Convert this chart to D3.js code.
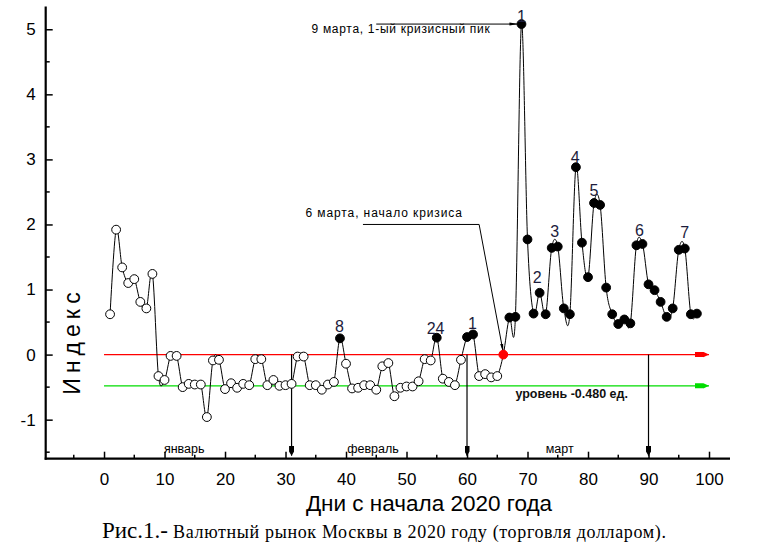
<!DOCTYPE html>
<html><head><meta charset="utf-8">
<script src="https://cdn.jsdelivr.net/npm/d3@7"></script>
<style>body{margin:0;background:#fff}svg{display:block}</style>
</head><body><svg id="c" width="773" height="542"></svg>
<script>
// ---- data ----
const days = d3.range(1, 99);
const values = [
  0.62, 1.92, 1.34, 1.10, 1.16, 0.81, 0.71, 1.24, -0.33, -0.39,
  -0.02, -0.02, -0.50, -0.45, -0.46, -0.46, -0.96, -0.09, -0.08, -0.53,
  -0.44, -0.51, -0.45, -0.47, -0.07, -0.07, -0.47, -0.39, -0.48, -0.47,
  -0.45, -0.03, -0.03, -0.47, -0.47, -0.54, -0.46, -0.42, 0.25, -0.14,
  -0.52, -0.51, -0.47, -0.47, -0.54, -0.18, -0.13, -0.64, -0.51, -0.49,
  -0.49, -0.41, -0.07, -0.09, 0.26, -0.37, -0.42, -0.47, -0.08, 0.27,
  0.31, -0.33, -0.30, -0.35, -0.33, 0.00, 0.57, 0.58, 5.08, 1.77,
  0.63, 0.95, 0.62, 1.64, 1.66, 0.71, 0.62, 2.88, 1.72, 1.19,
  2.33, 2.30, 1.03, 0.62, 0.47, 0.54, 0.48, 1.68, 1.70, 1.08,
  0.99, 0.81, 0.58, 0.71, 1.61, 1.63, 0.62, 0.63
];
const filledDays = [39, 55, 60, 61];
const crisisDay = 66;
const levelValue = -0.48;
const levelLabel = "уровень -0.480 ед.";
const yTicks = [-1, 0, 1, 2, 3, 4, 5];
const yMinorTicks = [-1.5, -0.5, 0.5, 1.5, 2.5, 3.5, 4.5];
const xTicks = [0, 10, 20, 30, 40, 50, 60, 70, 80, 90, 100];
const xMinorTicks = [-5, 5, 15, 25, 35, 45, 55, 65, 75, 85, 95];
const monthNames = ["январь", "февраль", "март"];
const monthLabelDays = [9.9, 40.2, 73.0];
const monthBoundaryDays = [31, 60, 90];
const peakLabelText = ["1", "2", "3", "4", "5", "6", "7", "8", "24", "1"];
const peakLabelDay  = [69, 71.6, 74.5, 77.9, 81.0, 88.5, 96.0, 38.9, 54.8, 60.9];
const peakLabelVal  = [5.11, 1.10, 1.80, 2.94, 2.43, 1.82, 1.79, 0.35, 0.32, 0.39];

// ---- layout ----
const svg = d3.select("#c");
const x = d3.scaleLinear().domain([-9.64, 103.47]).range([45.7, 730]);
const y = d3.scaleLinear().domain([-1.6, 5.35]).range([458.7, 6.5]);
const sans = "'Liberation Sans', Arial, sans-serif";
const serif = "'Liberation Serif', 'Times New Roman', serif";

svg.append("rect").attr("width", 773).attr("height", 542).attr("fill", "#fff");

const defs = svg.append("defs");
function marker(id, color, len, half) {
  defs.append("marker").attr("id", id)
    .attr("markerUnits", "userSpaceOnUse")
    .attr("markerWidth", len + 2).attr("markerHeight", half * 2 + 2)
    .attr("refX", len).attr("refY", half + 1).attr("orient", "auto")
    .append("path")
    .attr("d", `M0,${half - 1.5} L${len * 0.6},${half - 1.5} L${len * 0.6},${half - 0.5 - half * 0.6} L${len},${half + 1} L${len * 0.6},${half + 2.5 + half * 0.6} L${len * 0.6},${half + 3.5} L0,${half + 3.5} Z`)
    .attr("fill", color);
}
marker("aRed", "#ff0000", 14, 2);
marker("aGreen", "#00dd00", 14, 2);
marker("aBlack", "#000", 10, 1.5);
defs.append("marker").attr("id", "aSmall")
  .attr("markerUnits", "userSpaceOnUse")
  .attr("markerWidth", 10).attr("markerHeight", 8)
  .attr("refX", 9).attr("refY", 4).attr("orient", "auto")
  .append("path").attr("d", "M0,2.5 L9,4 L0,5.5 Z").attr("fill", "#000");

// ---- axes ----
const yAxis = d3.axisLeft(y).tickValues(yTicks).tickSize(-7).tickPadding(10)
  .tickFormat(d => String(d));
const gy = svg.append("g").attr("transform", `translate(${x.range()[0]},0)`).call(yAxis);
gy.select(".domain").remove();
gy.selectAll(".tick line").attr("stroke-width", 1.5);
gy.selectAll(".tick text").attr("font-family", sans).attr("font-size", 17).attr("fill", "#000");
svg.append("g").selectAll("line").data(yMinorTicks).join("line")
  .attr("x1", x.range()[0]).attr("x2", x.range()[0] + 4)
  .attr("y1", d => y(d)).attr("y2", d => y(d)).attr("stroke", "#000").attr("stroke-width", 1.5);

const xAxis = d3.axisBottom(x).tickValues(xTicks).tickSize(-7).tickPadding(14)
  .tickFormat(d => String(d));
const gx = svg.append("g").attr("transform", `translate(0,${y.range()[0]})`).call(xAxis);
gx.select(".domain").remove();
gx.selectAll(".tick line").attr("stroke-width", 1.5);
gx.selectAll(".tick text").attr("font-family", sans).attr("font-size", 17).attr("fill", "#000");
svg.append("g").selectAll("line").data(xMinorTicks).join("line")
  .attr("x1", d => x(d)).attr("x2", d => x(d))
  .attr("y1", y.range()[0]).attr("y2", y.range()[0] - 4).attr("stroke", "#000").attr("stroke-width", 1.5);

// axis lines
svg.append("line").attr("x1", x.range()[0]).attr("x2", x.range()[0])
  .attr("y1", y.range()[1]).attr("y2", y.range()[0] + 1).attr("stroke", "#000").attr("stroke-width", 2.2);
svg.append("line").attr("x1", x.range()[0] - 1).attr("x2", x.range()[1])
  .attr("y1", y.range()[0]).attr("y2", y.range()[0]).attr("stroke", "#000").attr("stroke-width", 2.2);

// ---- reference lines ----
svg.append("line").attr("x1", x(0)).attr("x2", x(100))
  .attr("y1", y(0)).attr("y2", y(0)).attr("stroke", "#ff0000").attr("stroke-width", 1.2)
  .attr("marker-end", "url(#aRed)");
svg.append("line").attr("x1", x(0)).attr("x2", x(100))
  .attr("y1", y(levelValue)).attr("y2", y(levelValue)).attr("stroke", "#00dd00").attr("stroke-width", 1.2)
  .attr("marker-end", "url(#aGreen)");
svg.append("text").attr("x", x(68.0)).attr("y", y(levelValue) + 12)
  .attr("font-family", sans).attr("font-size", 12.5).attr("font-weight", "bold").attr("fill", "#111")
  .text(levelLabel);

// month boundaries
svg.append("g").selectAll("line").data(monthBoundaryDays).join("line")
  .attr("x1", d => x(d)).attr("x2", d => x(d))
  .attr("y1", y(0)).attr("y2", y.range()[0] - 3)
  .attr("stroke", "#000").attr("stroke-width", 1.2).attr("marker-end", "url(#aBlack)");
svg.append("g").selectAll("text").data(monthNames).join("text")
  .attr("x", (d, i) => x(monthLabelDays[i])).attr("y", y.range()[0] - 6)
  .attr("font-family", sans).attr("font-size", 12.5).attr("fill", "#000")
  .text(d => d);

// ---- annotations ----
svg.append("path")
  .attr("d", `M${x(45)},${y(5.08)} L${x(69) - 3},${y(5.08)}`)
  .attr("stroke", "#000").attr("fill", "none").attr("marker-end", "url(#aSmall)");
svg.append("text").attr("x", x(34.3)).attr("y", y(4.94))
  .attr("font-family", sans).attr("font-size", 12).attr("letter-spacing", 0.7).attr("fill", "#000")
  .text("9 марта, 1-ый кризисный пик");
svg.append("path")
  .attr("d", `M${x(42.8)},${y(2.0)} L${x(62.0)},${y(2.0)} L${x(crisisDay)},${y(0) - 2}`)
  .attr("stroke", "#000").attr("fill", "none").attr("marker-end", "url(#aSmall)");
svg.append("text").attr("x", x(33.3)).attr("y", y(2.12))
  .attr("font-family", sans).attr("font-size", 12).attr("letter-spacing", 0.9).attr("fill", "#000")
  .text("6 марта, начало кризиса");

// ---- series ----
const pts = days.map((d, i) => ({ d, v: values[i] }));
svg.append("path").datum(pts)
  .attr("d", d3.line().x(p => x(p.d)).y(p => y(p.v)).curve(d3.curveCardinal.tension(0)))
  .attr("fill", "none").attr("stroke", "#000").attr("stroke-width", 1);
svg.append("g").selectAll("circle").data(pts).join("circle")
  .attr("cx", p => x(p.d)).attr("cy", p => y(p.v)).attr("r", 4.4)
  .attr("fill", p => p.d === crisisDay ? "#ff0000" : (p.d > crisisDay || filledDays.includes(p.d)) ? "#000" : "#fff")
  .attr("stroke", p => p.d === crisisDay ? "#ff0000" : "#000").attr("stroke-width", 1);

svg.append("g").selectAll("text").data(peakLabelText).join("text")
  .attr("x", (d, i) => x(peakLabelDay[i])).attr("y", (d, i) => y(peakLabelVal[i]))
  .attr("text-anchor", "middle").attr("font-family", sans).attr("font-size", 16).attr("fill", "#1c1c3c")
  .text(d => d);

// ---- titles ----
svg.append("text").attr("transform", `translate(80,341) rotate(-90)`)
  .attr("text-anchor", "middle").attr("font-family", sans).attr("font-size", 23)
  .attr("letter-spacing", 5).attr("fill", "#000").text("Индекс");
svg.append("text").attr("x", 429).attr("y", 511).attr("text-anchor", "middle")
  .attr("font-family", sans).attr("font-size", 22.5).attr("fill", "#000").text("Дни с начала 2020 года");
const cap = svg.append("text").attr("x", 102).attr("y", 538).attr("font-family", serif).attr("fill", "#000");
cap.append("tspan").attr("font-size", 23).text("Рис.1.-");
cap.append("tspan").attr("font-size", 18).attr("letter-spacing", 0.65)
  .text(" Валютный рынок Москвы в 2020 году (торговля долларом).");
</script></body></html>
